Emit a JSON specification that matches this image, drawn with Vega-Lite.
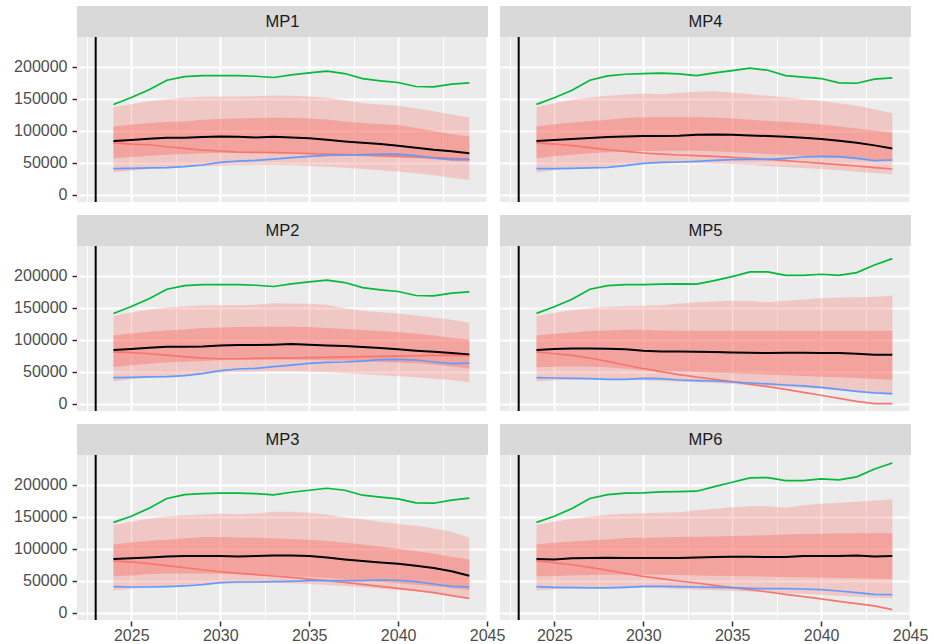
{
  "$schema": "https://vega.github.io/schema/vega-lite/v6.json",
  "padding": {"left": 13, "top": 5, "right": 0, "bottom": 0},
  "background": "#FFFFFF",
  "config": {
    "font": "Liberation Sans",
    "view": {"fill": "#EBEBEB", "stroke": null},
    "header": {"labels": false, "title": null, "labelPadding": 0, "titlePadding": 0, "labelFontSize": 0, "labelExpr": "''"},
    "axis": {
      "domain": false,
      "gridColor": "#FFFFFF",
      "gridOpacity": 1,
      "labelColor": "#4D4D4D",
      "labelFont": "Liberation Sans",
      "labelFontSize": 16,
      "tickColor": "#333333",
      "tickSize": 5,
      "tickWidth": 1.5,
      "labelPadding": 5,
      "labelOverlap": false,
      "labelFlush": false
    }
  },
  "datasets": {
    "proj": [
      {"mp":"MP1","year":2024,"p05":35000,"p25":57000,"p50":84000,"p75":106500,"p95":137000,"iter1":81000,"iter2":141000,"iter3":41000},
      {"mp":"MP1","year":2025,"p05":37800,"p25":59100,"p50":85500,"p75":109800,"p95":141400,"iter1":79300,"iter2":151800,"iter3":41400},
      {"mp":"MP1","year":2026,"p05":40400,"p25":61100,"p50":87500,"p75":111900,"p95":146100,"iter1":78200,"iter2":163700,"iter3":42000},
      {"mp":"MP1","year":2027,"p05":42000,"p25":62700,"p50":89100,"p75":113500,"p95":149200,"iter1":75100,"iter2":178700,"iter3":42500},
      {"mp":"MP1","year":2028,"p05":43500,"p25":63700,"p50":89100,"p75":114500,"p95":151300,"iter1":72500,"iter2":184400,"iter3":44000},
      {"mp":"MP1","year":2029,"p05":44600,"p25":64800,"p50":90100,"p75":117100,"p95":152800,"iter1":69900,"iter2":186000,"iter3":46600},
      {"mp":"MP1","year":2030,"p05":45600,"p25":65300,"p50":91200,"p75":118100,"p95":153300,"iter1":68400,"iter2":186000,"iter3":50800},
      {"mp":"MP1","year":2031,"p05":46100,"p25":65300,"p50":90700,"p75":119100,"p95":153300,"iter1":66800,"iter2":186000,"iter3":52800},
      {"mp":"MP1","year":2032,"p05":46600,"p25":65300,"p50":89600,"p75":119700,"p95":153800,"iter1":66300,"iter2":184900,"iter3":53900},
      {"mp":"MP1","year":2033,"p05":46600,"p25":65300,"p50":90700,"p75":120200,"p95":154900,"iter1":65800,"iter2":182900,"iter3":55900},
      {"mp":"MP1","year":2034,"p05":46100,"p25":64200,"p50":89600,"p75":120200,"p95":154400,"iter1":65300,"iter2":187000,"iter3":58000},
      {"mp":"MP1","year":2035,"p05":45100,"p25":63200,"p50":88300,"p75":119100,"p95":153300,"iter1":64200,"iter2":190100,"iter3":60100},
      {"mp":"MP1","year":2036,"p05":44000,"p25":62700,"p50":86000,"p75":117600,"p95":151300,"iter1":63700,"iter2":192700,"iter3":61600},
      {"mp":"MP1","year":2037,"p05":42500,"p25":61100,"p50":83400,"p75":114500,"p95":147600,"iter1":62700,"iter2":189100,"iter3":62200},
      {"mp":"MP1","year":2038,"p05":40400,"p25":60100,"p50":81300,"p75":111900,"p95":143000,"iter1":62200,"iter2":181300,"iter3":62700},
      {"mp":"MP1","year":2039,"p05":38300,"p25":59100,"p50":79300,"p75":110300,"p95":140900,"iter1":61100,"iter2":177700,"iter3":63700},
      {"mp":"MP1","year":2040,"p05":36300,"p25":58000,"p50":76700,"p75":108800,"p95":138800,"iter1":60600,"iter2":175100,"iter3":63700},
      {"mp":"MP1","year":2041,"p05":33700,"p25":57000,"p50":73600,"p75":104100,"p95":134700,"iter1":59100,"iter2":168900,"iter3":61100},
      {"mp":"MP1","year":2042,"p05":30600,"p25":55400,"p50":70400,"p75":99500,"p95":130500,"iter1":58000,"iter2":168400,"iter3":57500},
      {"mp":"MP1","year":2043,"p05":26900,"p25":53400,"p50":67900,"p75":94800,"p95":125400,"iter1":57000,"iter2":172500,"iter3":54900},
      {"mp":"MP1","year":2044,"p05":23300,"p25":51800,"p50":64800,"p75":91200,"p95":121200,"iter1":55900,"iter2":174600,"iter3":54900},

      {"mp":"MP2","year":2024,"p05":35000,"p25":57000,"p50":84000,"p75":106500,"p95":137000,"iter1":81000,"iter2":141000,"iter3":41000},
      {"mp":"MP2","year":2025,"p05":38300,"p25":60100,"p50":85500,"p75":110300,"p95":142500,"iter1":79800,"iter2":151800,"iter3":41400},
      {"mp":"MP2","year":2026,"p05":41400,"p25":62700,"p50":87500,"p75":112400,"p95":147100,"iter1":78200,"iter2":163700,"iter3":42000},
      {"mp":"MP2","year":2027,"p05":43500,"p25":64800,"p50":89100,"p75":114500,"p95":150200,"iter1":76100,"iter2":178700,"iter3":42500},
      {"mp":"MP2","year":2028,"p05":45600,"p25":65800,"p50":89100,"p75":116000,"p95":152300,"iter1":73600,"iter2":184400,"iter3":44000},
      {"mp":"MP2","year":2029,"p05":47100,"p25":66800,"p50":89600,"p75":118100,"p95":153300,"iter1":71500,"iter2":186000,"iter3":47100},
      {"mp":"MP2","year":2030,"p05":48700,"p25":67900,"p50":91200,"p75":119100,"p95":153800,"iter1":70400,"iter2":186000,"iter3":51800},
      {"mp":"MP2","year":2031,"p05":49700,"p25":68400,"p50":91700,"p75":119700,"p95":153800,"iter1":70400,"iter2":186000,"iter3":54400},
      {"mp":"MP2","year":2032,"p05":50200,"p25":68900,"p50":91700,"p75":120200,"p95":154400,"iter1":70900,"iter2":184900,"iter3":55400},
      {"mp":"MP2","year":2033,"p05":50800,"p25":68900,"p50":92200,"p75":120200,"p95":157000,"iter1":71500,"iter2":182900,"iter3":58000},
      {"mp":"MP2","year":2034,"p05":50800,"p25":68900,"p50":93200,"p75":120200,"p95":156400,"iter1":71500,"iter2":187000,"iter3":60600},
      {"mp":"MP2","year":2035,"p05":50200,"p25":68400,"p50":92200,"p75":119700,"p95":155900,"iter1":72000,"iter2":190100,"iter3":63200},
      {"mp":"MP2","year":2036,"p05":49200,"p25":67900,"p50":91200,"p75":118100,"p95":154400,"iter1":72500,"iter2":192700,"iter3":64800},
      {"mp":"MP2","year":2037,"p05":47700,"p25":67300,"p50":90100,"p75":116600,"p95":149200,"iter1":73000,"iter2":189100,"iter3":65300},
      {"mp":"MP2","year":2038,"p05":46100,"p25":66300,"p50":88600,"p75":115000,"p95":145000,"iter1":73600,"iter2":181300,"iter3":66800},
      {"mp":"MP2","year":2039,"p05":44600,"p25":65300,"p50":87000,"p75":113400,"p95":143000,"iter1":74100,"iter2":177700,"iter3":68900},
      {"mp":"MP2","year":2040,"p05":43000,"p25":64200,"p50":85000,"p75":111900,"p95":140900,"iter1":74600,"iter2":175100,"iter3":69400},
      {"mp":"MP2","year":2041,"p05":41400,"p25":63200,"p50":82900,"p75":109800,"p95":137800,"iter1":75100,"iter2":168900,"iter3":68400},
      {"mp":"MP2","year":2042,"p05":39400,"p25":61100,"p50":81300,"p75":106700,"p95":134700,"iter1":75600,"iter2":168400,"iter3":65300},
      {"mp":"MP2","year":2043,"p05":37300,"p25":58500,"p50":79300,"p75":103100,"p95":131100,"iter1":76100,"iter2":172500,"iter3":62700},
      {"mp":"MP2","year":2044,"p05":33700,"p25":54900,"p50":77200,"p75":100000,"p95":126400,"iter1":75100,"iter2":174600,"iter3":63700},

      {"mp":"MP3","year":2024,"p05":35000,"p25":57000,"p50":84000,"p75":106500,"p95":137000,"iter1":81000,"iter2":141000,"iter3":41000},
      {"mp":"MP3","year":2025,"p05":37800,"p25":58500,"p50":85000,"p75":109800,"p95":141900,"iter1":79300,"iter2":150700,"iter3":40400},
      {"mp":"MP3","year":2026,"p05":40400,"p25":60600,"p50":86500,"p75":112400,"p95":147100,"iter1":76700,"iter2":163200,"iter3":40400},
      {"mp":"MP3","year":2027,"p05":42000,"p25":61600,"p50":88100,"p75":114000,"p95":150200,"iter1":73600,"iter2":178200,"iter3":40900},
      {"mp":"MP3","year":2028,"p05":43500,"p25":61600,"p50":88600,"p75":116000,"p95":152300,"iter1":70400,"iter2":184400,"iter3":42000},
      {"mp":"MP3","year":2029,"p05":44600,"p25":61600,"p50":88600,"p75":118100,"p95":153300,"iter1":67300,"iter2":186000,"iter3":44000},
      {"mp":"MP3","year":2030,"p05":45600,"p25":61100,"p50":88600,"p75":118100,"p95":154400,"iter1":64200,"iter2":186500,"iter3":47100},
      {"mp":"MP3","year":2031,"p05":46100,"p25":60600,"p50":88100,"p75":117600,"p95":153800,"iter1":61600,"iter2":186500,"iter3":48200},
      {"mp":"MP3","year":2032,"p05":46600,"p25":59600,"p50":88600,"p75":117100,"p95":154900,"iter1":59600,"iter2":186000,"iter3":48200},
      {"mp":"MP3","year":2033,"p05":46600,"p25":58500,"p50":89600,"p75":116000,"p95":157500,"iter1":57500,"iter2":183900,"iter3":48700},
      {"mp":"MP3","year":2034,"p05":46100,"p25":57500,"p50":89600,"p75":115000,"p95":157500,"iter1":55400,"iter2":188000,"iter3":49200},
      {"mp":"MP3","year":2035,"p05":45100,"p25":55900,"p50":88600,"p75":114000,"p95":155900,"iter1":52800,"iter2":191100,"iter3":50200},
      {"mp":"MP3","year":2036,"p05":43500,"p25":54400,"p50":86500,"p75":111900,"p95":152800,"iter1":50200,"iter2":194200,"iter3":50200},
      {"mp":"MP3","year":2037,"p05":42000,"p25":52300,"p50":83400,"p75":109300,"p95":149200,"iter1":47700,"iter2":191100,"iter3":50200},
      {"mp":"MP3","year":2038,"p05":39900,"p25":50200,"p50":80800,"p75":106700,"p95":146100,"iter1":44600,"iter2":183400,"iter3":50200},
      {"mp":"MP3","year":2039,"p05":37800,"p25":48200,"p50":78700,"p75":103600,"p95":141900,"iter1":41400,"iter2":180300,"iter3":51300},
      {"mp":"MP3","year":2040,"p05":35700,"p25":46100,"p50":76700,"p75":100000,"p95":138800,"iter1":38300,"iter2":177700,"iter3":50800},
      {"mp":"MP3","year":2041,"p05":33700,"p25":44000,"p50":73600,"p75":96300,"p95":135700,"iter1":35200,"iter2":171500,"iter3":48700},
      {"mp":"MP3","year":2042,"p05":31100,"p25":41400,"p50":69900,"p75":92200,"p95":131600,"iter1":31600,"iter2":170900,"iter3":45100},
      {"mp":"MP3","year":2043,"p05":28000,"p25":38900,"p50":64800,"p75":87500,"p95":126400,"iter1":27000,"iter2":175600,"iter3":41400},
      {"mp":"MP3","year":2044,"p05":24900,"p25":35700,"p50":58000,"p75":83400,"p95":117100,"iter1":22800,"iter2":178700,"iter3":40400},

      {"mp":"MP4","year":2024,"p05":35000,"p25":57000,"p50":84000,"p75":106500,"p95":137000,"iter1":81000,"iter2":141000,"iter3":41000},
      {"mp":"MP4","year":2025,"p05":38300,"p25":60100,"p50":85500,"p75":110300,"p95":143000,"iter1":79300,"iter2":151300,"iter3":40900},
      {"mp":"MP4","year":2026,"p05":40900,"p25":62700,"p50":87000,"p75":112900,"p95":148200,"iter1":76700,"iter2":163200,"iter3":41400},
      {"mp":"MP4","year":2027,"p05":43000,"p25":64800,"p50":88600,"p75":115000,"p95":151800,"iter1":73600,"iter2":178700,"iter3":42000},
      {"mp":"MP4","year":2028,"p05":44600,"p25":66300,"p50":90100,"p75":117100,"p95":154400,"iter1":70400,"iter2":185400,"iter3":43000},
      {"mp":"MP4","year":2029,"p05":46100,"p25":67300,"p50":91200,"p75":119700,"p95":156400,"iter1":67900,"iter2":188000,"iter3":45600},
      {"mp":"MP4","year":2030,"p05":47700,"p25":68400,"p50":91700,"p75":121200,"p95":158000,"iter1":65300,"iter2":189100,"iter3":49200},
      {"mp":"MP4","year":2031,"p05":48700,"p25":68900,"p50":91700,"p75":121200,"p95":157000,"iter1":63700,"iter2":189600,"iter3":50800},
      {"mp":"MP4","year":2032,"p05":49200,"p25":68900,"p50":92200,"p75":121200,"p95":159100,"iter1":62200,"iter2":188600,"iter3":51300},
      {"mp":"MP4","year":2033,"p05":49200,"p25":68900,"p50":93800,"p75":121200,"p95":160600,"iter1":61100,"iter2":186000,"iter3":52300},
      {"mp":"MP4","year":2034,"p05":48700,"p25":67900,"p50":94300,"p75":120700,"p95":161700,"iter1":60100,"iter2":190100,"iter3":53900},
      {"mp":"MP4","year":2035,"p05":47700,"p25":66300,"p50":93800,"p75":119100,"p95":159600,"iter1":58500,"iter2":193700,"iter3":54900},
      {"mp":"MP4","year":2036,"p05":46600,"p25":65300,"p50":92700,"p75":117100,"p95":157000,"iter1":57000,"iter2":197400,"iter3":55400},
      {"mp":"MP4","year":2037,"p05":45100,"p25":63700,"p50":91700,"p75":115000,"p95":154400,"iter1":55400,"iter2":194200,"iter3":55400},
      {"mp":"MP4","year":2038,"p05":43500,"p25":62200,"p50":90700,"p75":114000,"p95":152300,"iter1":53400,"iter2":185900,"iter3":57000},
      {"mp":"MP4","year":2039,"p05":42000,"p25":60600,"p50":89100,"p75":111900,"p95":149200,"iter1":51300,"iter2":183400,"iter3":59100},
      {"mp":"MP4","year":2040,"p05":40400,"p25":59100,"p50":87000,"p75":109800,"p95":146600,"iter1":49200,"iter2":181300,"iter3":60100},
      {"mp":"MP4","year":2041,"p05":38300,"p25":57500,"p50":84400,"p75":106700,"p95":143000,"iter1":47100,"iter2":174600,"iter3":59600},
      {"mp":"MP4","year":2042,"p05":36300,"p25":55900,"p50":81300,"p75":103600,"p95":138800,"iter1":45100,"iter2":174000,"iter3":57000},
      {"mp":"MP4","year":2043,"p05":34200,"p25":54900,"p50":77200,"p75":100500,"p95":133600,"iter1":42500,"iter2":180300,"iter3":53400},
      {"mp":"MP4","year":2044,"p05":32100,"p25":53400,"p50":72500,"p75":97400,"p95":127400,"iter1":40400,"iter2":182300,"iter3":54400},

      {"mp":"MP5","year":2024,"p05":35000,"p25":57000,"p50":84000,"p75":106500,"p95":137000,"iter1":81000,"iter2":141000,"iter3":41000},
      {"mp":"MP5","year":2025,"p05":36800,"p25":58000,"p50":85500,"p75":109300,"p95":141900,"iter1":78200,"iter2":151300,"iter3":40400},
      {"mp":"MP5","year":2026,"p05":37800,"p25":58500,"p50":86500,"p75":111400,"p95":146100,"iter1":75600,"iter2":163200,"iter3":39900},
      {"mp":"MP5","year":2027,"p05":38300,"p25":58000,"p50":86500,"p75":113500,"p95":149200,"iter1":71500,"iter2":178700,"iter3":39400},
      {"mp":"MP5","year":2028,"p05":38300,"p25":57000,"p50":86000,"p75":114500,"p95":151300,"iter1":66300,"iter2":184400,"iter3":38300},
      {"mp":"MP5","year":2029,"p05":37800,"p25":54900,"p50":85000,"p75":115500,"p95":152300,"iter1":60600,"iter2":186000,"iter3":38300},
      {"mp":"MP5","year":2030,"p05":36800,"p25":52800,"p50":82900,"p75":115500,"p95":152800,"iter1":54900,"iter2":186000,"iter3":39900},
      {"mp":"MP5","year":2031,"p05":35700,"p25":51800,"p50":81800,"p75":114500,"p95":153800,"iter1":50200,"iter2":186500,"iter3":39400},
      {"mp":"MP5","year":2032,"p05":34700,"p25":50800,"p50":81800,"p75":114000,"p95":156400,"iter1":45600,"iter2":187000,"iter3":37300},
      {"mp":"MP5","year":2033,"p05":33700,"p25":49700,"p50":81300,"p75":114000,"p95":158500,"iter1":42000,"iter2":186500,"iter3":36300},
      {"mp":"MP5","year":2034,"p05":32600,"p25":48700,"p50":80800,"p75":114000,"p95":159600,"iter1":38300,"iter2":192200,"iter3":35700},
      {"mp":"MP5","year":2035,"p05":31100,"p25":47700,"p50":80300,"p75":114000,"p95":160600,"iter1":34700,"iter2":198400,"iter3":34200},
      {"mp":"MP5","year":2036,"p05":29500,"p25":46600,"p50":79800,"p75":114000,"p95":160600,"iter1":30600,"iter2":205600,"iter3":32600},
      {"mp":"MP5","year":2037,"p05":28000,"p25":45600,"p50":79300,"p75":114000,"p95":158500,"iter1":27000,"iter2":205600,"iter3":31100},
      {"mp":"MP5","year":2038,"p05":26400,"p25":44600,"p50":79800,"p75":114000,"p95":160600,"iter1":22800,"iter2":200400,"iter3":29500},
      {"mp":"MP5","year":2039,"p05":24900,"p25":43500,"p50":79800,"p75":114000,"p95":162700,"iter1":18100,"iter2":200400,"iter3":28000},
      {"mp":"MP5","year":2040,"p05":23300,"p25":42500,"p50":79300,"p75":114000,"p95":164700,"iter1":13500,"iter2":202000,"iter3":25900},
      {"mp":"MP5","year":2041,"p05":21200,"p25":41400,"p50":79300,"p75":114000,"p95":165800,"iter1":8800,"iter2":200400,"iter3":22800},
      {"mp":"MP5","year":2042,"p05":19200,"p25":40400,"p50":78200,"p75":114000,"p95":166300,"iter1":4100,"iter2":204600,"iter3":19700},
      {"mp":"MP5","year":2043,"p05":17100,"p25":38900,"p50":76700,"p75":114000,"p95":166800,"iter1":500,"iter2":216500,"iter3":17100},
      {"mp":"MP5","year":2044,"p05":13500,"p25":37800,"p50":76700,"p75":114000,"p95":168400,"iter1":500,"iter2":226400,"iter3":16100},

      {"mp":"MP6","year":2024,"p05":35000,"p25":57000,"p50":84000,"p75":106500,"p95":137000,"iter1":81000,"iter2":141000,"iter3":41000},
      {"mp":"MP6","year":2025,"p05":36800,"p25":57500,"p50":83400,"p75":109300,"p95":141900,"iter1":78200,"iter2":150700,"iter3":39900},
      {"mp":"MP6","year":2026,"p05":38300,"p25":58500,"p50":85000,"p75":111400,"p95":146600,"iter1":75100,"iter2":162700,"iter3":39400},
      {"mp":"MP6","year":2027,"p05":38900,"p25":59100,"p50":85500,"p75":112900,"p95":150200,"iter1":71000,"iter2":178200,"iter3":38900},
      {"mp":"MP6","year":2028,"p05":39400,"p25":59600,"p50":86000,"p75":114500,"p95":152800,"iter1":66300,"iter2":184400,"iter3":38900},
      {"mp":"MP6","year":2029,"p05":39400,"p25":59600,"p50":85500,"p75":116600,"p95":154400,"iter1":61600,"iter2":186500,"iter3":39900},
      {"mp":"MP6","year":2030,"p05":38900,"p25":59600,"p50":85500,"p75":117100,"p95":155400,"iter1":57000,"iter2":187000,"iter3":41400},
      {"mp":"MP6","year":2031,"p05":38300,"p25":59600,"p50":85500,"p75":117600,"p95":155900,"iter1":53400,"iter2":188600,"iter3":41400},
      {"mp":"MP6","year":2032,"p05":37300,"p25":59100,"p50":85500,"p75":118100,"p95":157000,"iter1":49700,"iter2":189100,"iter3":40900},
      {"mp":"MP6","year":2033,"p05":36300,"p25":58500,"p50":86500,"p75":118600,"p95":160100,"iter1":46600,"iter2":189600,"iter3":40400},
      {"mp":"MP6","year":2034,"p05":35200,"p25":58000,"p50":87000,"p75":119100,"p95":162200,"iter1":43000,"iter2":196800,"iter3":39900},
      {"mp":"MP6","year":2035,"p05":34200,"p25":57500,"p50":87500,"p75":119700,"p95":164700,"iter1":39400,"iter2":203600,"iter3":39400},
      {"mp":"MP6","year":2036,"p05":33200,"p25":57000,"p50":87500,"p75":120200,"p95":166300,"iter1":36300,"iter2":210300,"iter3":38300},
      {"mp":"MP6","year":2037,"p05":32100,"p25":56500,"p50":87000,"p75":121200,"p95":166300,"iter1":32600,"iter2":210800,"iter3":37800},
      {"mp":"MP6","year":2038,"p05":31100,"p25":55900,"p50":87000,"p75":122200,"p95":163700,"iter1":29000,"iter2":206200,"iter3":37800},
      {"mp":"MP6","year":2039,"p05":30000,"p25":55400,"p50":88600,"p75":122800,"p95":167800,"iter1":25400,"iter2":206200,"iter3":37300},
      {"mp":"MP6","year":2040,"p05":28500,"p25":54900,"p50":88600,"p75":123300,"p95":169900,"iter1":21800,"iter2":208800,"iter3":36300},
      {"mp":"MP6","year":2041,"p05":26900,"p25":54400,"p50":88600,"p75":123800,"p95":171500,"iter1":18100,"iter2":207200,"iter3":34200},
      {"mp":"MP6","year":2042,"p05":25400,"p25":53900,"p50":89600,"p75":124300,"p95":173000,"iter1":14500,"iter2":211900,"iter3":31600},
      {"mp":"MP6","year":2043,"p05":23800,"p25":53400,"p50":88100,"p75":124300,"p95":175100,"iter1":10900,"iter2":224300,"iter3":29000},
      {"mp":"MP6","year":2044,"p05":22300,"p25":52800,"p50":88600,"p75":124300,"p95":177200,"iter1":5200,"iter2":233600,"iter3":28500}
    ]
  },
  "data": {"name": "proj"},
  "facet": {"field": "mp", "type": "nominal", "sort": ["MP1", "MP4", "MP2", "MP5", "MP3", "MP6"], "title": null,
    "header": {"labels": false, "title": null, "labelPadding": 0, "labelFontSize": 0, "labelExpr": "''"}},
  "columns": 2,
  "spacing": {"row": 11, "column": 12},
  "spec": {
    "width": 411,
    "height": 196,
    "encoding": {
      "x": {"field": "year", "type": "quantitative", "title": null,
        "scale": {"domain": [2021.95, 2045.05], "nice": false, "zero": false},
        "axis": {
          "values": [2022.5, 2025, 2027.5, 2030, 2032.5, 2035, 2037.5, 2040, 2042.5, 2045],
          "format": "d",
          "labelPadding": 1,
          "labelExpr": "datum.value % 5 === 0 ? datum.label : ''",
          "gridWidth": {"condition": {"test": "datum.value % 5 === 0", "value": 2}, "value": 1},
          "tickOpacity": {"condition": {"test": "datum.value % 5 === 0", "value": 1}, "value": 0}
        }
      }
    },
    "layer": [
      {
        "mark": {"type": "area", "color": "#F8766D", "opacity": 0.3},
        "encoding": {
          "y": {"field": "p05", "type": "quantitative", "title": null,
            "scale": {"domain": [-11000, 294300], "nice": false, "zero": false},
            "axis": {
              "values": [0, 25000, 50000, 75000, 100000, 125000, 150000, 175000, 200000, 225000],
              "format": "d",
              "labelExpr": "datum.value % 50000 === 0 ? datum.label : ''",
              "gridWidth": {"condition": {"test": "datum.value % 50000 === 0", "value": 2}, "value": 1},
              "tickOpacity": {"condition": {"test": "datum.value % 50000 === 0", "value": 1}, "value": 0}
            }
          },
          "y2": {"field": "p95"}
        }
      },
      {
        "mark": {"type": "area", "color": "#F8766D", "opacity": 0.45},
        "encoding": {"y": {"field": "p25", "type": "quantitative", "title": null}, "y2": {"field": "p75"}}
      },
      {
        "mark": {"type": "line", "color": "#F8766D", "strokeWidth": 1.7},
        "encoding": {"y": {"field": "iter1", "type": "quantitative", "title": null}}
      },
      {
        "mark": {"type": "line", "color": "#00BA38", "strokeWidth": 1.7},
        "encoding": {"y": {"field": "iter2", "type": "quantitative", "title": null}}
      },
      {
        "mark": {"type": "line", "color": "#619CFF", "strokeWidth": 1.7},
        "encoding": {"y": {"field": "iter3", "type": "quantitative", "title": null}}
      },
      {
        "mark": {"type": "line", "color": "#000000", "strokeWidth": 2},
        "encoding": {"y": {"field": "p50", "type": "quantitative", "title": null}}
      },
      {
        "transform": [{"filter": "datum.year === 2024"}],
        "mark": {"type": "rule", "color": "#000000", "strokeWidth": 2},
        "encoding": {"x": {"datum": 2023, "type": "quantitative"}}
      },
      {
        "transform": [{"filter": "datum.year === 2024"}],
        "mark": {"type": "rect", "color": "#D9D9D9"},
        "encoding": {
          "x": {"datum": 2021.95, "type": "quantitative"},
          "x2": {"datum": 2045.05},
          "y": {"datum": 246000, "type": "quantitative"},
          "y2": {"datum": 294300}
        }
      },
      {
        "transform": [{"filter": "datum.year === 2024"}],
        "mark": {"type": "text", "fontSize": 16.5, "color": "#1A1A1A", "baseline": "middle", "align": "center"},
        "encoding": {
          "x": {"datum": 2033.5, "type": "quantitative"},
          "y": {"datum": 270150, "type": "quantitative"},
          "text": {"field": "mp"}
        }
      }
    ]
  }
}
